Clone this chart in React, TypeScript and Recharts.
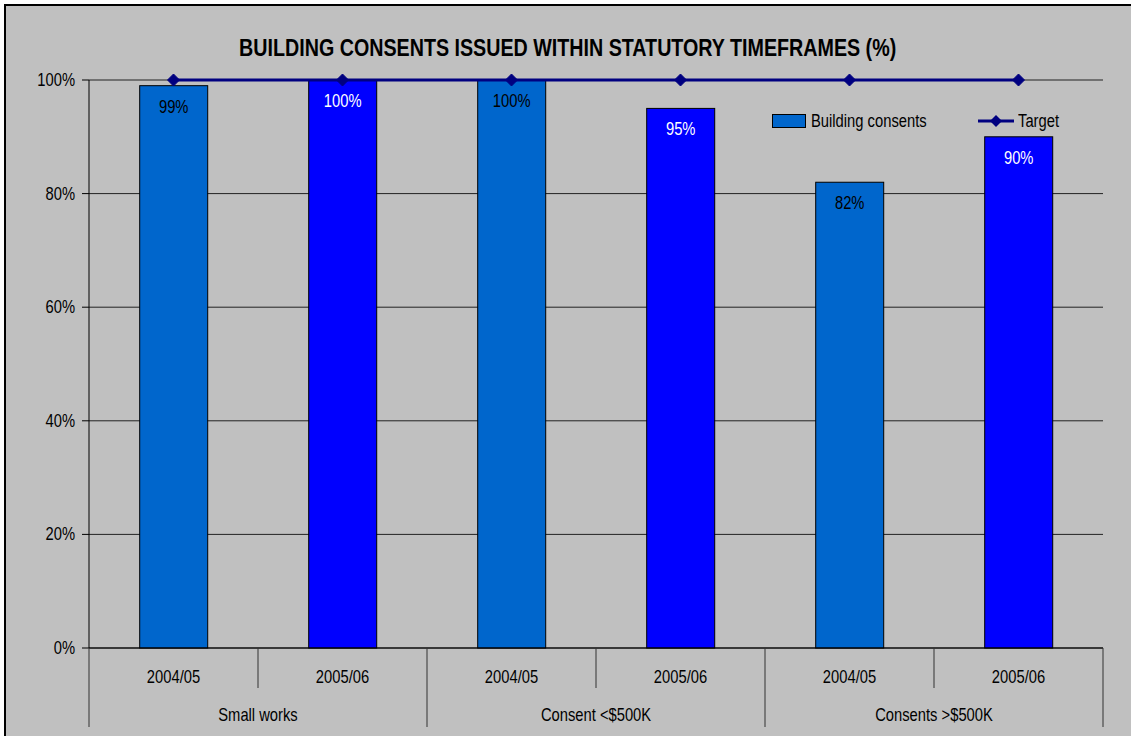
import React from "react";
import {
  Bar,
  CartesianGrid,
  ComposedChart,
  LabelList,
  Line,
  XAxis,
  YAxis,
} from "recharts";

const years = ["2004/05", "2005/06", "2004/05", "2005/06", "2004/05", "2005/06"];
const groups = ["Small works", "Small works", "Consent <$500K", "Consent <$500K", "Consents >$500K", "Consents >$500K"];
const consents = [99, 100, 100, 95, 82, 90];
const target = [100, 100, 100, 100, 100, 100];
const yTicks = [0, 20, 40, 60, 80, 100];

const barColors = ["#0066CC", "#0000FF"];
const labelColors = ["#000000", "#FFFFFF"];

// no Arial Narrow here, so squeeze Liberation Sans the same way
const FONT = "'Liberation Sans', Arial, sans-serif";
const NARROW = 0.82;

const W = 1131;
const H = 736;
const PLOT_LEFT = 89;
const PLOT_RIGHT = 1103;
const HALF_BAND = (PLOT_RIGHT - PLOT_LEFT) / years.length / 2;

const data = years.map((year, i) => ({
  key: i,
  year,
  group: groups[i],
  consents: consents[i],
  target: target[i],
}));

const NarrowText = ({ x, y, anchor = "middle", size = 18, fill = "#000", children }: any) => (
  <text
    transform={`translate(${x},${y}) scale(${NARROW},1)`}
    x={0}
    y={0}
    textAnchor={anchor}
    fontFamily={FONT}
    fontSize={size}
    fill={fill}
  >
    {children}
  </text>
);

const Diamond = (props: any) => {
  const { cx, cy } = props;
  if (cx == null || cy == null) return null;
  return (
    <path
      d={`M${cx},${cy - 6} L${cx + 6},${cy} L${cx},${cy + 6} L${cx - 6},${cy} Z`}
      fill="#000080"
      stroke="#000080"
    />
  );
};

const AxisTick = (props: any) => {
  const { x, payload } = props;
  const i = payload.index;
  const top = 648;
  const left = x - HALF_BAND;
  const isGroupStart = i === 0 || groups[i] !== groups[i - 1];
  const last = i === years.length - 1;
  return (
    <g>
      <line
        x1={left}
        x2={left}
        y1={top}
        y2={isGroupStart ? top + 79 : top + 40}
        stroke="#333"
        strokeWidth={1}
      />
      {last && (
        <line x1={x + HALF_BAND} x2={x + HALF_BAND} y1={top} y2={top + 79} stroke="#333" />
      )}
      <NarrowText x={x} y={top + 35}>
        {years[i]}
      </NarrowText>
      {isGroupStart && (
        <NarrowText x={x + HALF_BAND} y={top + 73}>
          {groups[i]}
        </NarrowText>
      )}
    </g>
  );
};

const YTick = (props: any) => {
  const { y, payload } = props;
  return (
    <NarrowText x={PLOT_LEFT - 14} y={y + 6} anchor="end">
      {`${payload.value}%`}
    </NarrowText>
  );
};

const BarLabel = (props: any) => {
  const { x, y, width, value, index } = props;
  return (
    <NarrowText x={x + width / 2} y={y + 27} fill={labelColors[index % 2]}>
      {`${value}%`}
    </NarrowText>
  );
};

const squeezed: React.CSSProperties = {
  display: "inline-block",
  flexShrink: 0,
  whiteSpace: "nowrap",
  transform: `scaleX(${NARROW})`,
  transformOrigin: "left center",
};

const LegendBox = () => (
  <div
    style={{
      position: "absolute",
      left: 772,
      top: 111,
      display: "flex",
      alignItems: "center",
      height: 20,
      width: 340,
      whiteSpace: "nowrap",
      fontFamily: FONT,
      fontSize: 18,
      color: "#000",
    }}
  >
    <span
      style={{
        display: "inline-block",
        flexShrink: 0,
        width: 32,
        height: 12,
        background: barColors[0],
        border: "1px solid #000",
        marginRight: 5,
      }}
    />
    <span style={{ ...squeezed, width: 140 }}>Building consents</span>
    <svg width={36} height={14} style={{ flexShrink: 0, marginLeft: 27, marginRight: 4 }}>
      <line x1={0} x2={36} y1={7} y2={7} stroke="#000080" strokeWidth={3} />
      <path d="M18,1 L24,7 L18,13 L12,7 Z" fill="#000080" />
    </svg>
    <span style={squeezed}>Target</span>
  </div>
);

export default function App() {
  return (
    <div
      style={{
        position: "absolute",
        left: 0,
        top: 0,
        width: W,
        height: H,
        background: "#FFFFFF",
        overflow: "hidden",
      }}
    >
      <div
        style={{
          position: "absolute",
          left: 4,
          top: 4,
          width: W + 20,
          height: H + 20,
          background: "#C0C0C0",
          border: "2px solid #000",
        }}
      />
      <div
        style={{
          position: "absolute",
          left: 0,
          top: 34,
          width: W,
          textAlign: "center",
          fontFamily: FONT,
          fontWeight: "bold",
          fontSize: 24,
          color: "#000",
        }}
      >
        <span style={{ display: "inline-block", transform: `translateX(2px) scaleX(${NARROW})` }}>
          BUILDING CONSENTS ISSUED WITHIN STATUTORY TIMEFRAMES (%)
        </span>
      </div>
      <div style={{ position: "absolute", left: 0, top: 0 }}>
        <ComposedChart
          width={W}
          height={H}
          data={data}
          margin={{ top: 80, right: W - PLOT_RIGHT, bottom: 0, left: 0 }}
          barCategoryGap="30%"
        >
          <CartesianGrid vertical={false} stroke="#222" strokeWidth={1} />
          <XAxis
            dataKey="key"
            type="category"
            height={88}
            interval={0}
            axisLine={{ stroke: "#000" }}
            tickLine={false}
            tick={<AxisTick />}
          />
          <YAxis
            width={PLOT_LEFT}
            domain={[0, 100]}
            ticks={yTicks}
            axisLine={{ stroke: "#000" }}
            tickLine={{ stroke: "#000" }}
            tickSize={7}
            tick={<YTick />}
          />
          <Bar
            dataKey="consents"
            name="Building consents"
            isAnimationActive={false}
            shape={(p: any) => (
              <rect
                x={p.x}
                y={p.y}
                width={p.width}
                height={p.height}
                fill={barColors[p.index % 2]}
                stroke="#000"
                strokeWidth={1}
              />
            )}
          >
            <LabelList dataKey="consents" content={<BarLabel />} />
          </Bar>
          <Line
            dataKey="target"
            name="Target"
            stroke="#000080"
            strokeWidth={3}
            dot={<Diamond />}
            activeDot={false}
            isAnimationActive={false}
          />
        </ComposedChart>
      </div>
      <LegendBox />
    </div>
  );
}
